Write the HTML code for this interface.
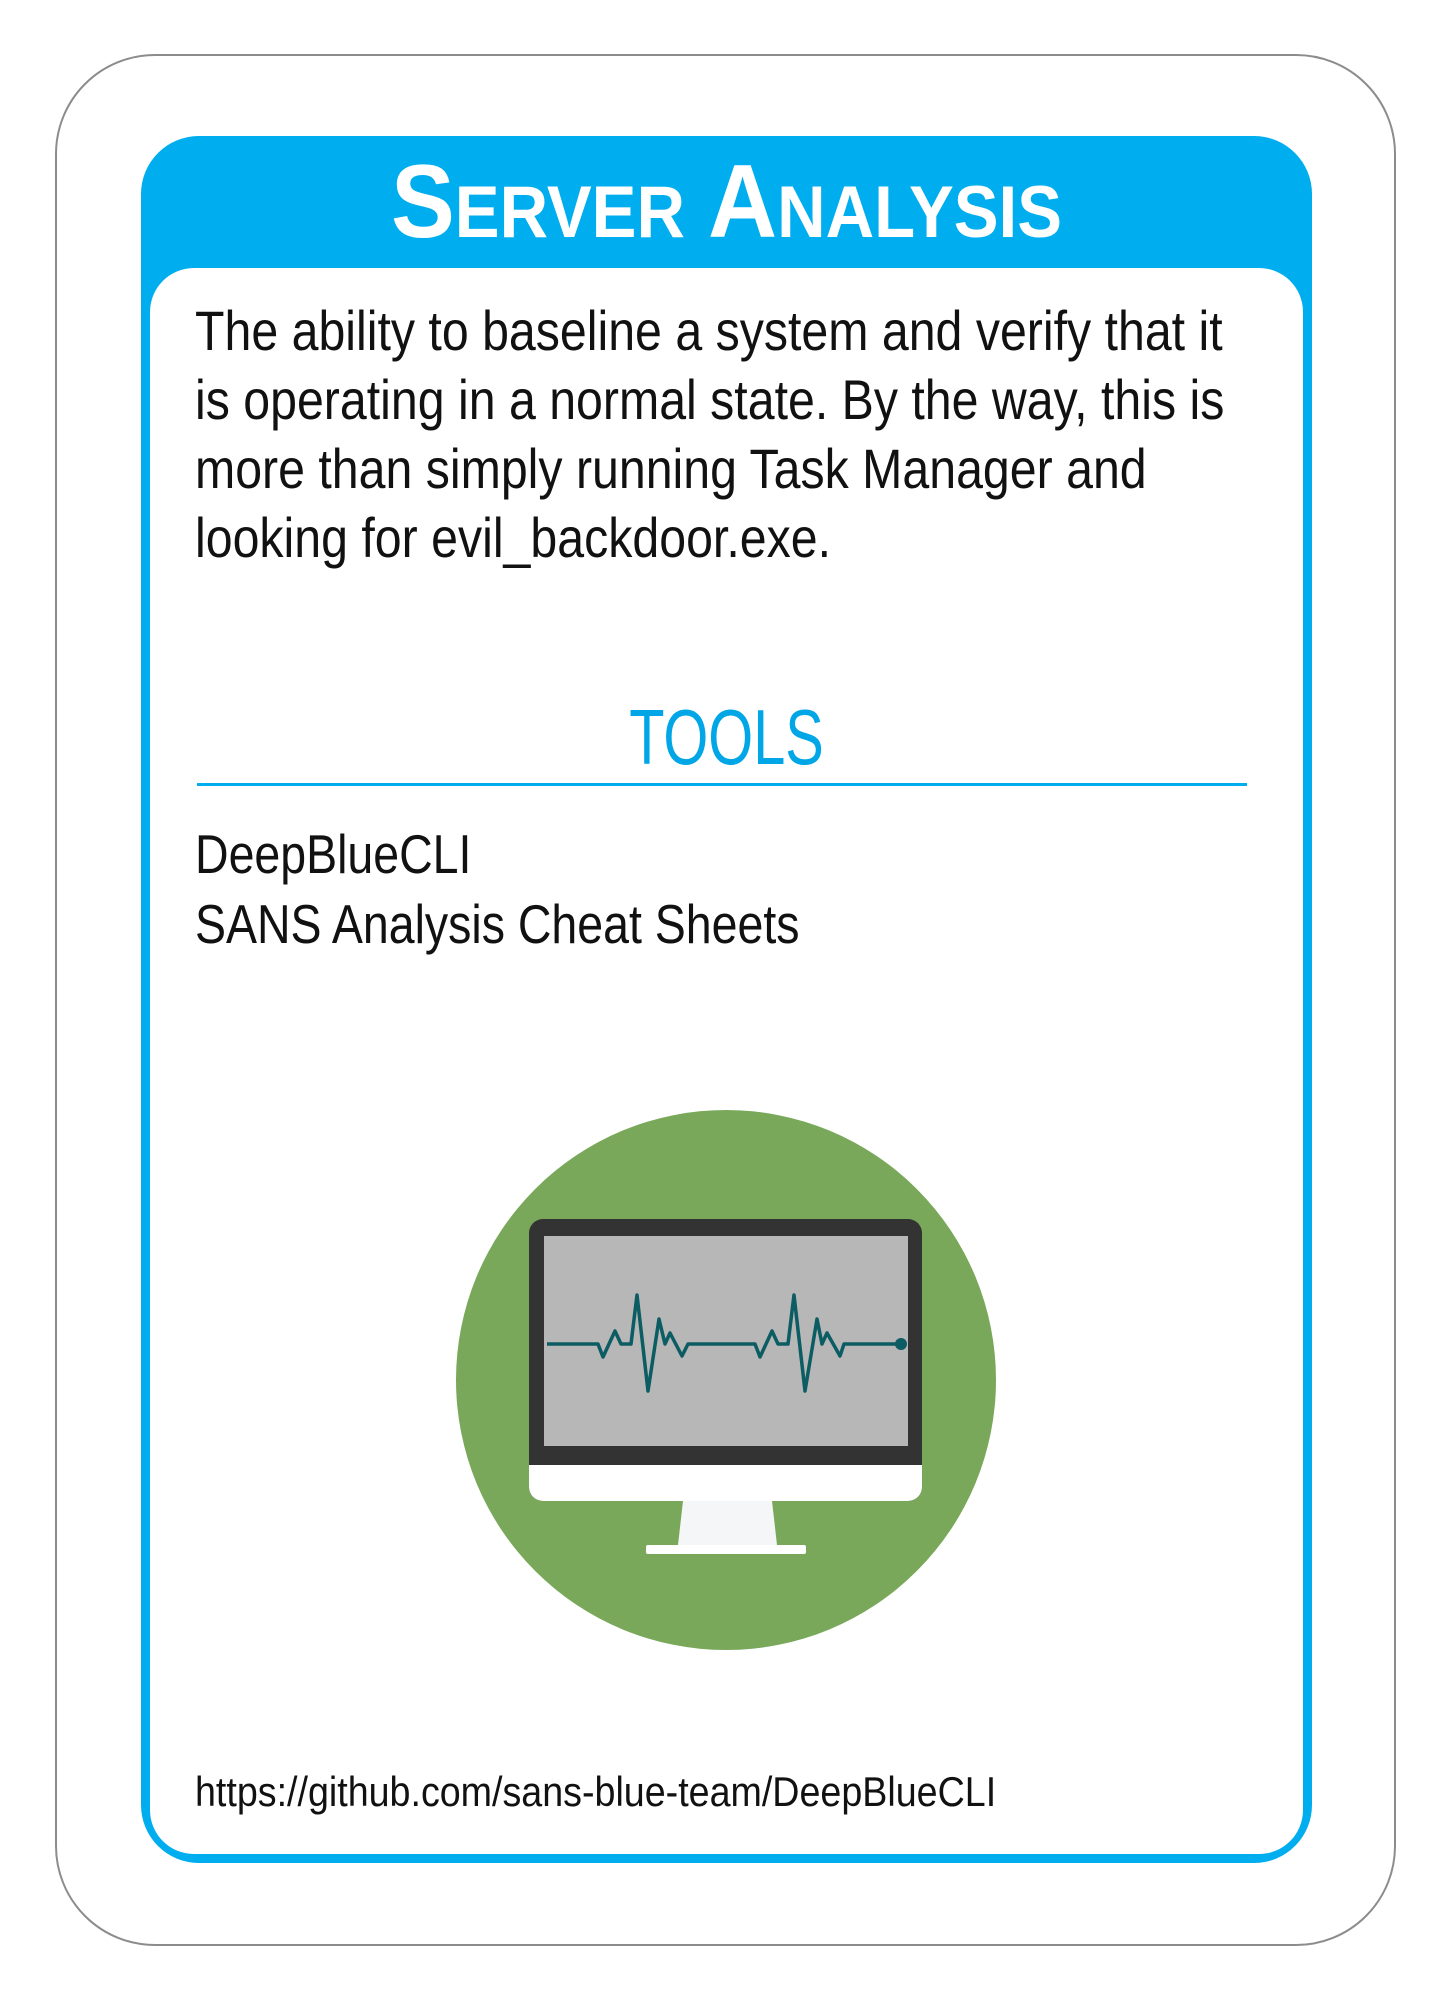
<!DOCTYPE html>
<html><head><meta charset="utf-8"><style>
html,body{margin:0;padding:0;background:#fff;}
body{width:1451px;height:2000px;position:relative;overflow:hidden;font-family:"Liberation Sans Narrow","Liberation Sans",sans-serif;}
.abs{position:absolute;}
#outer{left:55px;top:54px;width:1341px;height:1892px;border:2px solid #8c8c8c;border-radius:100px;box-sizing:border-box;}
#blue{left:141px;top:136px;width:1171px;height:1727px;background:#00aeef;border-radius:58px;}
#inner{left:150px;top:268px;width:1153px;height:1586px;background:#fff;border-radius:44px;}
#title{left:141px;width:1171px;top:150px;text-align:center;color:#fff;font-weight:bold;font-size:104px;line-height:104px;font-variant:small-caps;transform:scaleX(0.92);transform-origin:50% 0;}
#body{left:195px;top:296px;font-size:56px;line-height:69px;color:#111;white-space:nowrap;transform:scaleX(0.862);transform-origin:0 0;}
#tools{left:141px;width:1171px;top:698px;text-align:center;color:#00a6e6;font-size:78px;line-height:78px;transform:scaleX(0.74);transform-origin:50% 0;}
#rule{left:197px;top:783px;width:1050px;height:3px;background:#00aeef;}
#list{left:195px;top:819px;font-size:55px;line-height:70px;color:#111;white-space:nowrap;transform:scaleX(0.845);transform-origin:0 0;}
#url{left:195px;top:1771px;font-size:42px;line-height:42px;color:#111;white-space:nowrap;transform:scaleX(0.896);transform-origin:0 0;}
</style></head><body>
<div id="outer" class="abs"></div>
<div id="blue" class="abs"></div>
<div id="inner" class="abs"></div>
<div id="title" class="abs">Server Analysis</div>
<div id="body" class="abs">The ability to baseline a system and verify that it<br>is operating in a normal state. By the way, this is<br>more than simply running Task Manager and<br>looking for evil_backdoor.exe.</div>
<div id="tools" class="abs">TOOLS</div>
<div id="rule" class="abs"></div>
<div id="list" class="abs">DeepBlueCLI<br>SANS Analysis Cheat Sheets</div>
<svg class="abs" style="left:0;top:0" width="1451" height="2000">
<circle cx="726" cy="1380" r="270" fill="#79a85a"/>
<rect x="529" y="1219" width="393" height="282" rx="14" fill="#333"/>
<rect x="544" y="1236" width="364" height="210" fill="#b7b7b7"/>
<path d="M529 1465 H922 V1487 a14 14 0 0 1 -14 14 H543 a14 14 0 0 1 -14 -14 Z" fill="#fff"/>
<path d="M683 1501 H772 L777 1545 H678 Z" fill="#f5f6f8"/>
<rect x="646" y="1545" width="160" height="9" rx="2" fill="#fff"/>
<polyline fill="none" stroke="#0b5c63" stroke-width="3.5" stroke-linejoin="round" points="547,1344 598,1344 603,1357 615,1331 621,1344 631,1344 637,1295 648,1391 659,1319 665,1344 670,1333 682,1356 688,1344 755,1344 760,1357 772,1331 778,1344 788,1344 794,1295 805,1391 817,1319 822,1344 827,1333 840,1356 844,1344 901,1344"/>
<circle cx="901" cy="1344" r="6" fill="#0b5c63"/>
</svg>
<div id="url" class="abs">https://github.com/sans-blue-team/DeepBlueCLI</div>
</body></html>
